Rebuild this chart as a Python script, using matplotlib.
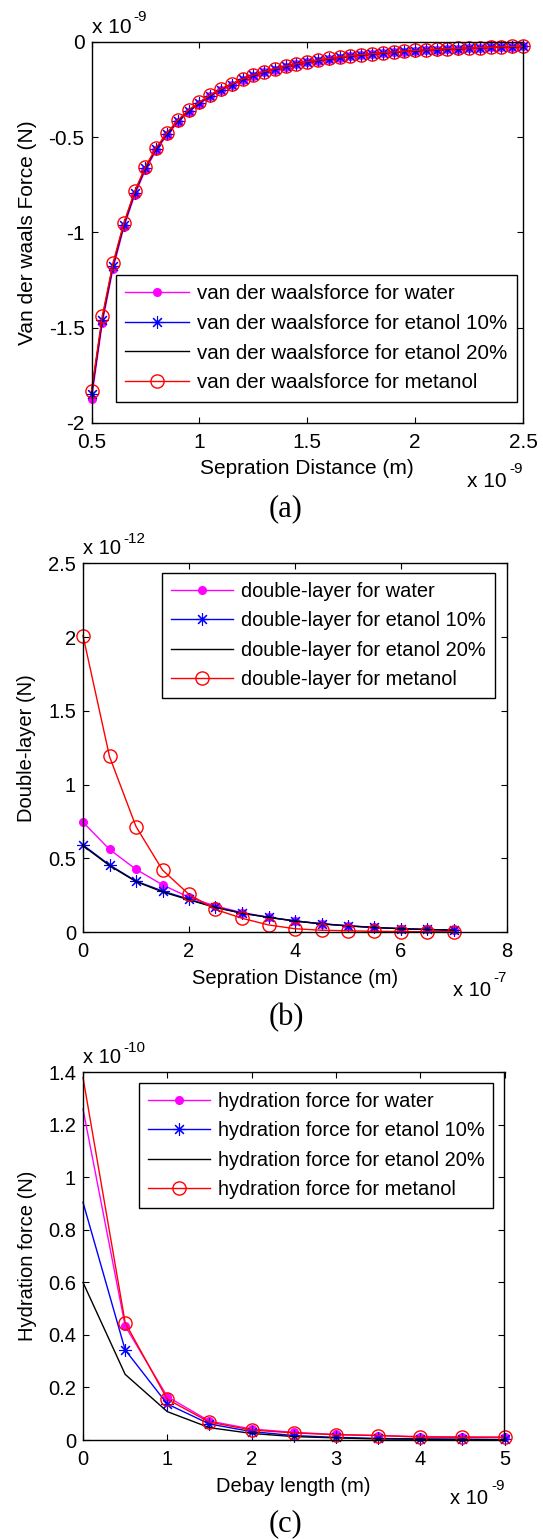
import numpy as np
import matplotlib
matplotlib.use("Agg")
from matplotlib import pyplot as plt

plt.rcParams['font.family'] = ['Liberation Sans', 'DejaVu Sans']

# ---- (a) van der Waals force, x in 1e-9 m, y in 1e-9 N ----
sep_a = [0.5, 0.55, 0.6, 0.65, 0.7, 0.75, 0.8, 0.85, 0.9, 0.95, 1.0, 1.05, 1.1,
         1.15, 1.2, 1.25, 1.3, 1.35, 1.4, 1.45, 1.5, 1.55, 1.6, 1.65, 1.7, 1.75,
         1.8, 1.85, 1.9, 1.95, 2.0, 2.05, 2.1, 2.15, 2.2, 2.25, 2.3, 2.35, 2.4,
         2.45, 2.5]
vdw_water = [-1.875, -1.475, -1.19, -0.973, -0.805, -0.672, -0.569, -0.49, -0.423,
             -0.367, -0.326, -0.287, -0.254, -0.228, -0.201, -0.180, -0.161, -0.146,
             -0.132, -0.119, -0.108, -0.099, -0.091, -0.083, -0.076, -0.070, -0.065,
             -0.060, -0.056, -0.052, -0.048, -0.044, -0.041, -0.038, -0.036, -0.034,
             -0.032, -0.030, -0.028, -0.026, -0.025]
vdw_et10 = [-1.85, -1.458, -1.175, -0.962, -0.795, -0.664, -0.562, -0.484, -0.417,
            -0.362, -0.322, -0.284, -0.251, -0.225, -0.198, -0.177, -0.159, -0.144,
            -0.130, -0.117, -0.107, -0.098, -0.090, -0.082, -0.075, -0.069, -0.064,
            -0.059, -0.055, -0.051, -0.047, -0.044, -0.041, -0.038, -0.036, -0.034,
            -0.032, -0.030, -0.028, -0.026, -0.025]
vdw_et20 = [-1.845, -1.452, -1.17, -0.958, -0.792, -0.661, -0.56, -0.482, -0.415,
            -0.36, -0.32, -0.282, -0.25, -0.224, -0.197, -0.176, -0.158, -0.143,
            -0.129, -0.116, -0.106, -0.097, -0.089, -0.082, -0.075, -0.069, -0.064,
            -0.059, -0.055, -0.051, -0.047, -0.044, -0.041, -0.038, -0.036, -0.034,
            -0.032, -0.030, -0.028, -0.026, -0.025]
vdw_met = [-1.83, -1.44, -1.16, -0.95, -0.785, -0.655, -0.555, -0.478, -0.412,
           -0.358, -0.318, -0.280, -0.248, -0.222, -0.196, -0.175, -0.157, -0.142,
           -0.128, -0.116, -0.105, -0.096, -0.088, -0.081, -0.074, -0.068, -0.063,
           -0.058, -0.054, -0.050, -0.046, -0.043, -0.040, -0.037, -0.035, -0.033,
           -0.031, -0.029, -0.027, -0.025, -0.024]

# ---- (b) double-layer, x in 1e-7 m, y in 1e-12 N ----
sep_b = [0, 0.5, 1.0, 1.5, 2.0, 2.5, 3.0, 3.5, 4.0, 4.5, 5.0, 5.5, 6.0, 6.5, 7.0]
dl_water = [0.745, 0.56, 0.425, 0.32, 0.235, 0.176, 0.132, 0.10, 0.075, 0.056,
            0.042, 0.031, 0.023, 0.017, 0.013]
dl_et10 = [0.59, 0.455, 0.345, 0.278, 0.222, 0.168, 0.128, 0.10, 0.075, 0.056,
           0.042, 0.031, 0.023, 0.017, 0.013]
dl_et20 = [0.585, 0.45, 0.342, 0.272, 0.218, 0.166, 0.127, 0.099, 0.074, 0.055,
           0.041, 0.030, 0.022, 0.017, 0.012]
dl_met = [2.01, 1.19, 0.715, 0.42, 0.255, 0.153, 0.093, 0.048, 0.022, 0.012,
          0.008, 0.005, 0.003, 0.002, 0.001]

# ---- (c) hydration force, x in 1e-9 m, y in 1e-10 N ----
debye_c = [0, 0.5, 1.0, 1.5, 2.0, 2.5, 3.0, 3.5, 4.0, 4.5, 5.0]
hy_water = [1.26, 0.434, 0.165, 0.072, 0.042, 0.029, 0.021, 0.017, 0.013, 0.012, 0.011]
hy_et10 = [0.905, 0.343, 0.137, 0.061, 0.032, 0.017, 0.010, 0.006, 0.004, 0.003, 0.002]
hy_et20 = [0.60, 0.25, 0.108, 0.047, 0.025, 0.013, 0.008, 0.004, 0.003, 0.002, 0.001]
hy_met = [1.38, 0.447, 0.155, 0.068, 0.038, 0.027, 0.020, 0.017, 0.011, 0.010, 0.010]

W, H = 543, 1539
SUP = 11
PX = 0.72  # points per pixel at dpi 100
fig = plt.figure(figsize=(W / 100, H / 100), dpi=100)

asterisk = (8, 2, 0)
styles = [
    dict(color='#ff00ff', marker='o', ms=5.5, mfc='#ff00ff', mec='#ff00ff'),
    dict(color='#0000ff', marker=asterisk, ms=9, mew=0.8),
    dict(color='black'),
    dict(color='#ff0000', marker='o', ms=9.5, mfc='none', mew=1.0),
]


def panel(box, x, series, labels, xlim, ylim, xticks, yticks, xlabel, ylabel,
          xexp, yexp, leg_px, tag, tag_y, fs=14.5, leg_fs=14.4, first_marker=0):
    left, top, right, bottom = box
    ax = fig.add_axes([left / W, (H - bottom) / H, (right - left) / W, (bottom - top) / H])
    aw, ah = right - left, bottom - top
    for y, lab, st in zip(series, labels, styles):
        ax.plot(x, y, lw=1.0, label=lab, clip_on=False,
                markevery=slice(first_marker, None), **st)
    ax.set_xlim(*xlim)
    ax.set_ylim(*ylim)
    ax.set_xticks(xticks)
    ax.set_yticks(yticks)
    ax.set_xticklabels(['%g' % t for t in xticks])
    ax.set_yticklabels(['%g' % t for t in yticks])
    ax.tick_params(direction='in', length=4, width=0.8, top=True, right=True,
                   labelsize=fs)
    ax.tick_params(axis='x', pad=7)
    ax.tick_params(axis='y', pad=5)
    for s in ax.spines.values():
        s.set_linewidth(1.0)
    ax.set_xlabel(xlabel, fontsize=fs, va='center')
    ax.xaxis.set_label_coords(0.5, -46 / ah)
    ax.set_ylabel(ylabel, fontsize=fs, va='center')
    ax.yaxis.set_label_coords((27 - left) / aw, 0.5)

    # exponent labels, MATLAB style "x 10^-n"
    main = ax.annotate('x 10', xy=(0, 1), xycoords='axes fraction',
                       xytext=(0, 9 * PX), textcoords='offset points',
                       ha='left', va='baseline', fontsize=fs)
    ax.annotate(yexp, xy=(1, 0.83), xycoords=main, xytext=(1.5, 0),
                textcoords='offset points', ha='left', va='baseline', fontsize=SUP)
    sup = ax.annotate(xexp, xy=(1, 0), xycoords='axes fraction',
                      xytext=(0, -50 * PX), textcoords='offset points',
                      ha='right', va='baseline', fontsize=SUP)
    ax.annotate('x 10', xy=(0, 0), xycoords=sup, xytext=(-2, -11 * PX),
                textcoords='offset points', ha='right', va='baseline', fontsize=fs)

    lx, ly = leg_px
    leg = ax.legend(loc='upper left',
                    bbox_to_anchor=((lx - left) / aw, 1 - (ly - top) / ah),
                    borderaxespad=0, fontsize=leg_fs, numpoints=1, handlelength=3.1,
                    handletextpad=0.4, borderpad=0.45, labelspacing=0.52,
                    fancybox=False, edgecolor='black', framealpha=1)
    leg.get_frame().set_linewidth(1.0)
    fig.text(286 / W, 1 - tag_y / H, tag, ha='center', va='center',
             fontsize=22, family='Liberation Serif')
    return ax


panel((91.5, 41.7, 523, 423), sep_a, [vdw_water, vdw_et10, vdw_et20, vdw_met],
      ['van der waalsforce for water', 'van der waalsforce for etanol 10%',
       'van der waalsforce for etanol 20%', 'van der waalsforce for metanol'],
      (0.5, 2.5), (-2, 0), [0.5, 1, 1.5, 2, 2.5], [-2, -1.5, -1, -0.5, 0],
      'Sepration Distance (m)', 'Van der waals Force (N)', '-9', '-9',
      (116, 275), '(a)', 509, fs=15, leg_fs=14.8)

panel((83, 563.3, 507, 932), sep_b, [dl_water, dl_et10, dl_et20, dl_met],
      ['double-layer for water', 'double-layer for etanol 10%',
       'double-layer for etanol 20%', 'double-layer for metanol'],
      (0, 8), (0, 2.5), [0, 2, 4, 6, 8], [0, 0.5, 1, 1.5, 2, 2.5],
      'Sepration Distance (m)', 'Double-layer (N)', '-7', '-12',
      (162, 573), '(b)', 1018)

panel((83, 1072.3, 504.5, 1440), debye_c, [hy_water, hy_et10, hy_et20, hy_met],
      ['hydration force for water', 'hydration force for etanol 10%',
       'hydration force for etanol 20%', 'hydration force for metanol'],
      (0, 5), (0, 1.4), [0, 1, 2, 3, 4, 5], [0, 0.2, 0.4, 0.6, 0.8, 1, 1.2, 1.4],
      'Debay length (m)', 'Hydration force (N)', '-9', '-10',
      (138.5, 1083), '(c)', 1524, first_marker=1)

fig.savefig('out.png', dpi=100)
